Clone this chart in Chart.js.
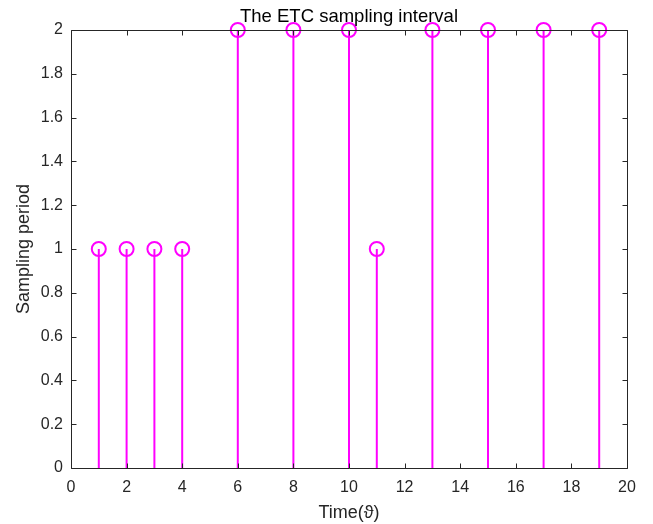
<!DOCTYPE html>
<html>
<head>
<meta charset="utf-8">
<script src="https://cdn.jsdelivr.net/npm/chart.js@4/dist/chart.umd.min.js"></script>
<style>
html,body{margin:0;padding:0;background:#fff;}
#wrap{width:653px;height:524px;position:relative;}
</style>
</head>
<body>
<div id="wrap"><canvas id="c" width="653" height="524"></canvas></div>
<script>
const timeSteps = [1, 2, 3, 4, 6, 8, 10, 11, 13, 15, 17, 19];
const samplingPeriods = [1, 1, 1, 1, 2, 2, 2, 1, 2, 2, 2, 2];
const xTicks = [0, 2, 4, 6, 8, 10, 12, 14, 16, 18, 20];
const yTicks = [0, 0.2, 0.4, 0.6, 0.8, 1, 1.2, 1.4, 1.6, 1.8, 2];
const yTickLabels = ['0', '0.2', '0.4', '0.6', '0.8', '1', '1.2', '1.4', '1.6', '1.8', '2'];
const titleText = 'The ETC sampling interval';
const xLabel = 'Time(\u03D1)';
const yLabel = 'Sampling period';

const MAG = '#ff00ff';
const AX = '#262626';
const FONT = 'Liberation Sans, Arial, sans-serif';

const datasets = [];
timeSteps.forEach((t, i) => {
  datasets.push({
    type: 'line',
    data: [{x: t, y: 0}, {x: t, y: samplingPeriods[i]}],
    borderColor: MAG,
    borderWidth: 2,
    pointRadius: 0,
    clip: false,
    order: 2
  });
});
datasets.push({
  type: 'scatter',
  data: timeSteps.map((t, i) => ({x: t, y: samplingPeriods[i]})),
  borderColor: MAG,
  backgroundColor: 'rgba(0,0,0,0)',
  borderWidth: 2,
  pointRadius: 7,
  pointHoverRadius: 7,
  clip: false,
  order: 1
});

const boxPlugin = {
  id: 'boxTicks',
  afterDatasetsDraw(chart) {
    const {ctx, chartArea: a, scales} = chart;
    ctx.save();
    ctx.strokeStyle = AX;
    ctx.lineWidth = 1;
    ctx.beginPath();
    const L = Math.round(a.left) + 0.5, R = Math.round(a.right) + 0.5;
    const T = Math.round(a.top) + 0.5, B = Math.round(a.bottom) + 0.5;
    ctx.moveTo(L, T); ctx.lineTo(R, T); ctx.lineTo(R, B); ctx.lineTo(L, B); ctx.closePath();
    const tl = 5;
    xTicks.forEach(v => {
      const px = Math.round(scales.x.getPixelForValue(v)) + 0.5;
      ctx.moveTo(px, B); ctx.lineTo(px, B - tl);
      ctx.moveTo(px, T); ctx.lineTo(px, T + tl);
    });
    yTicks.forEach(v => {
      const py = Math.round(scales.y.getPixelForValue(v)) + 0.5;
      ctx.moveTo(L, py); ctx.lineTo(L + tl, py);
      ctx.moveTo(R, py); ctx.lineTo(R - tl, py);
    });
    ctx.stroke();
    // title
    ctx.fillStyle = '#000';
    ctx.font = '18.5px ' + FONT;
    ctx.textAlign = 'center';
    ctx.textBaseline = 'alphabetic';
    ctx.fillText(titleText, (a.left + a.right) / 2, 22);
    ctx.restore();
  }
};

new Chart(document.getElementById('c'), {
  data: {datasets},
  options: {
    responsive: false,
    animation: false,
    events: [],
    layout: {padding: {top: 30, right: 26, left: 0, bottom: 0}},
    plugins: {legend: {display: false}, tooltip: {enabled: false}, title: {display: false}},
    scales: {
      x: {
        type: 'linear', min: 0, max: 20,
        afterFit(s) { s.height = 56; },
        afterBuildTicks(s) { s.ticks = xTicks.map(v => ({value: v})); },
        grid: {display: false, drawTicks: false},
        border: {display: false},
        ticks: {color: AX, font: {family: FONT, size: 16}, padding: 10, maxRotation: 0,
                callback: (v) => String(v)},
        title: {display: true, text: xLabel, color: AX, font: {family: FONT, size: 18}, padding: {top: 0, bottom: 0}}
      },
      y: {
        type: 'linear', min: 0, max: 2,
        afterFit(s) { s.width = 71; },
        afterBuildTicks(s) { s.ticks = yTicks.map(v => ({value: v})); },
        grid: {display: false, drawTicks: false},
        border: {display: false},
        ticks: {color: AX, font: {family: FONT, size: 16}, padding: 8,
                callback: (v) => { const i = yTicks.findIndex(t => Math.abs(t - v) < 1e-9); return i >= 0 ? yTickLabels[i] : ''; }},
        title: {display: true, text: yLabel, color: AX, font: {family: FONT, size: 18}, padding: {top: 13, bottom: 0}}
      }
    }
  },
  plugins: [boxPlugin]
});
</script>
</body>
</html>
